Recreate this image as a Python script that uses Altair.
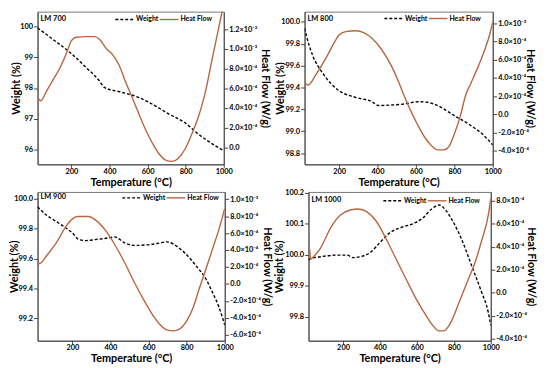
import altair as alt
import pandas as pd

FONT = "Lato"
HF_COLOR = "#B9653F"

series_names = ["Weight", "Heat Flow"]
panel_labels = ["LM 700", "LM 800", "LM 900", "LM 1000"]
x_ticks = [200, 400, 600, 800, 1000]

# ---- LM 700 ----
w1_T = [22, 105, 191, 278, 347, 373, 451, 537, 623, 710, 796, 865, 900, 1000]
w1 = [99.95, 99.57, 99.16, 98.66, 98.23, 98.02, 97.88, 97.73, 97.48, 97.16, 96.87, 96.51, 96.35, 95.96]
h1_T = [22, 39, 70, 105, 140, 174, 200, 226, 278, 321, 347, 381, 416, 451, 485, 520, 554, 589, 623,
        658, 692, 727, 762, 796, 831, 865, 883, 908, 934, 960, 986, 1000]
h1 = [5.07, 4.73, 5.73, 6.9, 8.07, 9.57, 10.83, 11.17, 11.23, 11.23, 10.97, 10.07, 9.4, 8.3, 6.6, 5.0,
      3.4, 1.8, 0.5, -0.6, -1.27, -1.43, -1.1, -0.2, 1.3, 3.0, 4.1, 6.0, 8.5, 10.9, 13.3, 14.6]  # x1e-4 W/g
w1_ticks = [96, 97, 98, 99, 100]
h1_ticks = [0, 2e-4, 4e-4, 6e-4, 8e-4, 1.0e-3, 1.2e-3]
h1_labels = ["0.0", "2.0×10⁻⁴", "4.0×10⁻⁴", "6.0×10⁻⁴", "8.0×10⁻⁴", "1.0×10⁻³", "1.2×10⁻³"]

# ---- LM 800 ----
w2_T = [20, 30, 63, 115, 200, 285, 371, 405, 473, 542, 610, 660, 713, 798, 884, 952, 1000]
w2 = [99.94, 99.87, 99.69, 99.53, 99.37, 99.31, 99.27, 99.235, 99.24, 99.25, 99.27, 99.265, 99.235,
      99.145, 99.055, 98.965, 98.875]
h2_T = [20, 38, 80, 132, 183, 200, 234, 285, 328, 371, 422, 473, 508, 542, 576, 610, 644, 678, 713,
        747, 772, 798, 832, 858, 884, 918, 952, 986, 1000]
h2 = [3.49, 3.2, 4.39, 6.2, 8.19, 8.73, 9.1, 9.2, 8.99, 8.37, 7.1, 5.3, 3.67, 1.86, 0.23, -1.21, -2.48,
      -3.38, -3.92, -3.92, -3.56, -2.3, -0.13, 2.04, 3.31, 4.94, 6.75, 8.92, 10.18]
w2_ticks = [98.8, 99.0, 99.2, 99.4, 99.6, 99.8, 100.0]
h2_ticks = [-4e-4, -2e-4, 0, 2e-4, 4e-4, 6e-4, 8e-4, 1.0e-3]
h2_labels = ["-4.0×10⁻⁴", "-2.0×10⁻⁴", "0.0", "2.0×10⁻⁴", "4.0×10⁻⁴", "6.0×10⁻⁴", "8.0×10⁻⁴", "1.0×10⁻³"]

# ---- LM 900 ----
w3_T = [17, 63, 115, 166, 200, 234, 268, 320, 388, 422, 474, 525, 610, 662, 696, 747, 798, 849, 901,
        935, 969, 1000]
w3 = [99.945, 99.89, 99.847, 99.803, 99.77, 99.726, 99.719, 99.726, 99.737, 99.744, 99.704, 99.687,
      99.693, 99.704, 99.711, 99.682, 99.627, 99.551, 99.463, 99.375, 99.277, 99.156]
h3_T = [17, 29, 63, 115, 166, 200, 226, 285, 320, 371, 422, 474, 525, 576, 628, 662, 696, 730, 764,
        798, 832, 866, 901, 935, 969, 1000]
h3 = [2.44, 2.4, 3.29, 4.84, 6.78, 7.67, 7.95, 7.95, 7.56, 6.4, 4.65, 2.52, 0.19, -1.94, -3.88, -4.84,
      -5.43, -5.54, -5.31, -4.46, -2.91, -0.58, 1.74, 4.07, 6.4, 8.91]
w3_ticks = [99.2, 99.4, 99.6, 99.8, 100.0]
h3_ticks = [-6e-4, -4e-4, -2e-4, 0, 2e-4, 4e-4, 6e-4, 8e-4, 1.0e-3]
h3_labels = ["-6.0×10⁻⁴", "-4.0×10⁻⁴", "-2.0×10⁻⁴", "0.0", "2.0×10⁻⁴", "4.0×10⁻⁴", "6.0×10⁻⁴",
             "8.0×10⁻⁴", "1.0×10⁻³"]

# ---- LM 1000 ----
w4_T = [13, 26, 79, 168, 221, 257, 292, 346, 399, 453, 524, 577, 630, 684, 719, 755, 790, 843, 897,
        950, 986, 1000]
w4 = [99.984, 99.988, 99.994, 99.999, 99.999, 99.991, 99.994, 100.007, 100.039, 100.071, 100.09, 100.1,
      100.118, 100.15, 100.161, 100.145, 100.113, 100.049, 99.964, 99.88, 99.816, 99.773]
h4_T = [13, 18, 24, 50, 79, 132, 186, 239, 284, 328, 381, 435, 488, 541, 595, 648, 684, 719, 746, 781,
        826, 879, 915, 950, 986, 1000]
h4 = [3.3, 3.9, 2.95, 3.3, 3.91, 5.63, 6.77, 7.2, 7.29, 7.06, 6.2, 4.63, 2.91, 1.2, -0.51, -1.94, -2.8,
      -3.31, -3.31, -2.66, -0.94, 1.2, 2.63, 4.5, 6.7, 8.2]
w4_ticks = [99.8, 99.9, 100.0, 100.1, 100.2]
h4_ticks = [-4e-4, -2e-4, 0, 2e-4, 4e-4, 6e-4, 8e-4]
h4_labels = ["-4.0×10⁻⁴", "-2.0×10⁻⁴", "0.0", "2.0×10⁻⁴", "4.0×10⁻⁴", "6.0×10⁻⁴", "8.0×10⁻⁴"]


def label_expr(ticks, labels):
    expr = "''"
    for v, l in reversed(list(zip(ticks, labels))):
        expr = f"round(datum.value*1e5) == {round(v * 1e5)} ? '{l}' : ({expr})"
    return expr


def legend_layers(x0, y0):
    """Hand-drawn in-plot legend (dashed black Weight, solid brown Heat Flow)."""
    d_w = pd.DataFrame({"s": [series_names[0]]})
    d_h = pd.DataFrame({"s": [series_names[1]]})
    r1 = alt.Chart(d_w).mark_rule(color="black", strokeWidth=1.4, strokeDash=[3, 2]).encode(
        x=alt.value(x0), x2=alt.value(x0 + 19), y=alt.value(y0))
    t1 = alt.Chart(d_w).mark_text(align="left", baseline="middle", font=FONT, fontWeight="bold",
                                  fontSize=7, color="black").encode(
        x=alt.value(x0 + 21), y=alt.value(y0), text="s:N")
    r2 = alt.Chart(d_h).mark_rule(color=HF_COLOR, strokeWidth=1.4).encode(
        x=alt.value(x0 + 45), x2=alt.value(x0 + 64), y=alt.value(y0))
    t2 = alt.Chart(d_h).mark_text(align="left", baseline="middle", font=FONT, fontWeight="bold",
                                  fontSize=7, color="black").encode(
        x=alt.value(x0 + 66), y=alt.value(y0), text="s:N")
    return [r1, t1, r2, t2]


def panel(label, wT, wv, hT, hv, w_ticks, w_fmt, h_ticks, h_labels, xdom, wdom, hdom,
          width, height, left_ext, right_ext, leg_x, leg_y, lab_y):
    wdf = pd.DataFrame({"T": wT, "v": wv})
    hdf = pd.DataFrame({"T": hT, "v": [x * 1e-4 for x in hv]})
    x = alt.X("T:Q", scale=alt.Scale(domain=xdom, nice=False, zero=False),
              axis=alt.Axis(values=x_ticks, title="Temperature (°C)", format="d",
                            titleY=12.5, titleBaseline="top", tickSize=3, labelPadding=0))
    wl = alt.Chart(wdf).mark_line(strokeWidth=1.4, interpolate="monotone", clip=True,
                                  color="black", strokeDash=[3, 2]).encode(
        x=x,
        y=alt.Y("v:Q", scale=alt.Scale(domain=wdom, nice=False, zero=False),
                axis=alt.Axis(values=w_ticks, format=w_fmt, title="Weight (%)",
                              minExtent=left_ext, maxExtent=left_ext, titlePadding=1)))
    hl = alt.Chart(hdf).mark_line(strokeWidth=1.4, interpolate="monotone", clip=True,
                                  color=HF_COLOR).encode(
        x=x,
        y=alt.Y("v:Q", scale=alt.Scale(domain=hdom, nice=False, zero=False),
                axis=alt.Axis(orient="right", values=h_ticks, labelExpr=label_expr(h_ticks, h_labels),
                              title="Heat Flow (W/g)", minExtent=right_ext, maxExtent=right_ext,
                              titlePadding=1)))
    txt = alt.Chart(pd.DataFrame({"t": [label]})).mark_text(
        align="left", baseline="middle", font=FONT, fontWeight="bold", fontSize=7.5, color="black"
    ).encode(x=alt.value(3), y=alt.value(lab_y), text="t:N")
    return alt.layer(wl, hl, txt, *legend_layers(leg_x, leg_y)).resolve_scale(
        y="independent").properties(width=width, height=height)


p1 = panel(panel_labels[0], w1_T, w1, h1_T, h1, w1_ticks, ".0f", h1_ticks, h1_labels,
           [22, 1000], [95.52, 100.48], [-1.73e-4, 1.377e-3], 189, 155, 15, 35, 79, 8, 8)
p2 = panel(panel_labels[1], w2_T, w2, h2_T, h2, w2_ticks, ".1f", h2_ticks, h2_labels,
           [20, 1000], [98.698, 100.093], [-5.52e-4, 1.13e-3], 191, 155, 18, 31, 81, 7, 7)
p3 = panel(panel_labels[2], w3_T, w3, h3_T, h3, w3_ticks, ".1f", h3_ticks, h3_labels,
           [17, 1000], [99.051, 100.044], [-6.7e-4, 1.085e-3], 190, 151, 17, 36, 86, 6, 5.5)
p4 = panel(panel_labels[3], w4_T, w4, h4_T, h4, w4_ticks, ".1f", h4_ticks, h4_labels,
           [13, 1000], [99.723, 100.203], [-4.17e-4, 8.77e-4], 185, 151, 23, 34, 76, 9, 8)

top = alt.hconcat(p1, p2, spacing=3)
bottom = alt.hconcat(p3, p4, spacing=0)

chart = alt.vconcat(top, bottom, spacing=0).properties(
    padding={"left": 0, "top": 0, "right": 5, "bottom": 0}
).configure_view(
    stroke="#777", strokeWidth=1
).configure_axis(
    labelFont=FONT, titleFont=FONT, labelFontWeight="bold", titleFontWeight="bold",
    labelFontSize=7.5, titleFontSize=11, labelColor="black", titleColor="black",
    tickColor="#444", domainColor="#444", tickSize=4, labelPadding=1, grid=False,
    labelFlush=False, labelOverlap=False
)

chart.save("out.html", embed_options={"renderer": "svg", "actions": False})
